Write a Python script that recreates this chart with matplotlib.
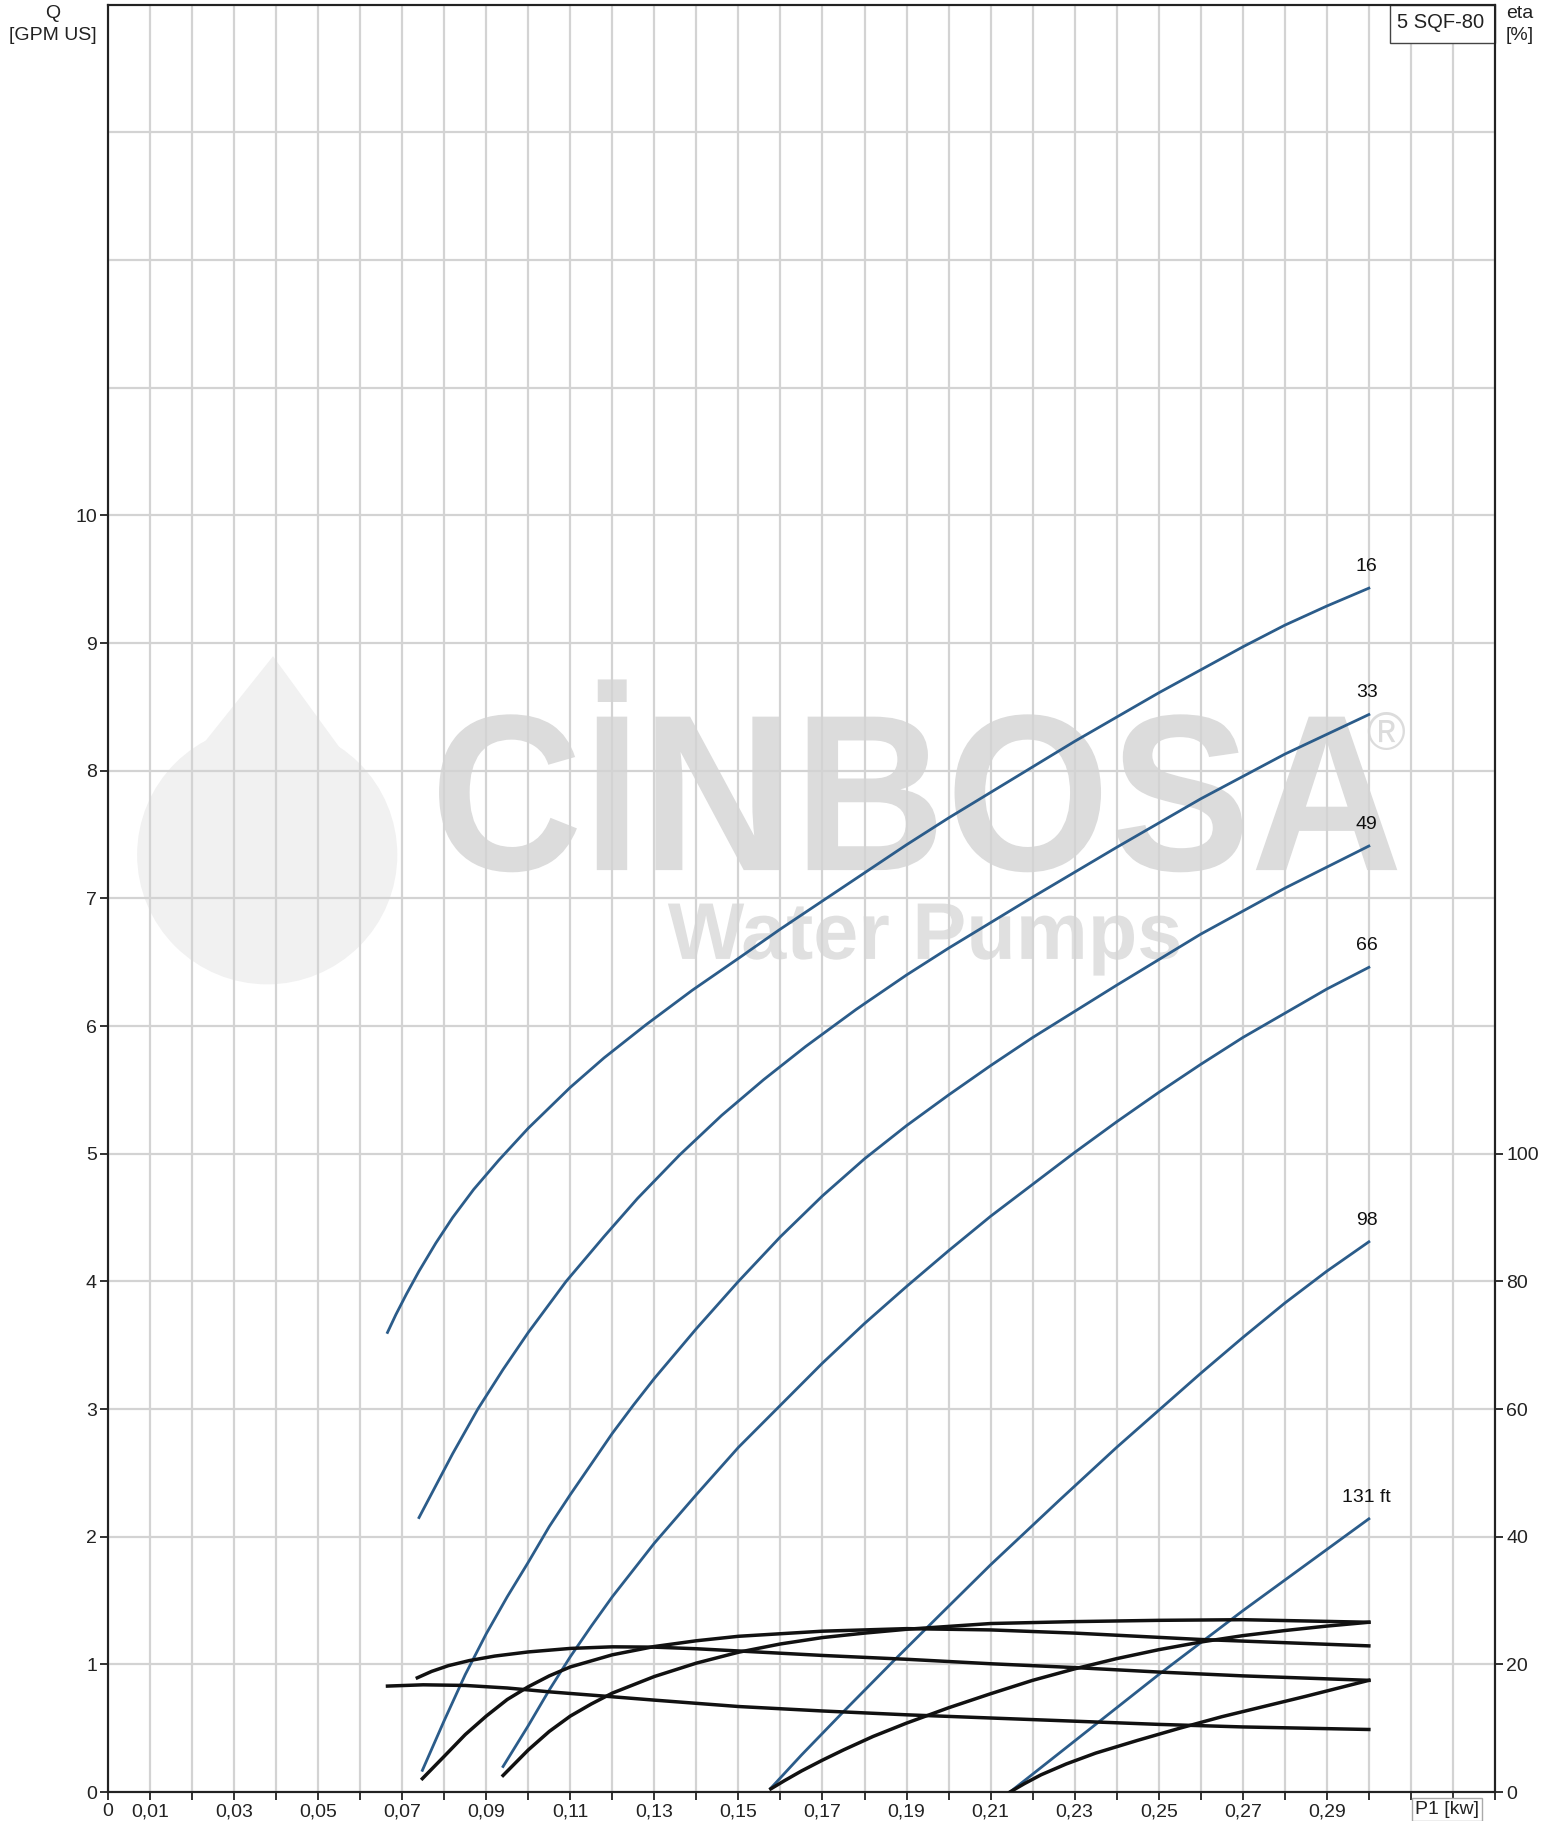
import numpy as np
import matplotlib
matplotlib.use("Agg")
import matplotlib.pyplot as plt
from matplotlib.patches import Ellipse, Polygon, Rectangle, PathPatch
from matplotlib.textpath import TextPath
from matplotlib.font_manager import FontProperties
from matplotlib.transforms import Affine2D

plt.rcParams['font.family'] = ['Liberation Sans', 'DejaVu Sans']

# Q [GPM US] against P1 [kW], one curve per head
head_labels = ['16', '33', '49', '66', '98', '131 ft']

p_16 = [0.0665, 0.0685, 0.071, 0.074, 0.078, 0.082, 0.087, 0.093, 0.100, 0.110, 0.118, 0.128,
        0.139, 0.150, 0.160, 0.170, 0.180, 0.190, 0.200, 0.210, 0.220, 0.230, 0.240, 0.250,
        0.260, 0.270, 0.280, 0.290, 0.300]
q_16 = [3.60, 3.74, 3.90, 4.08, 4.30, 4.50, 4.72, 4.95, 5.20, 5.52, 5.75, 6.01,
        6.28, 6.53, 6.76, 6.98, 7.20, 7.42, 7.63, 7.83, 8.03, 8.23, 8.42, 8.61,
        8.79, 8.97, 9.14, 9.29, 9.43]

p_33 = [0.074, 0.078, 0.082, 0.088, 0.094, 0.100, 0.109, 0.118, 0.126, 0.136, 0.146, 0.156,
        0.166, 0.178, 0.190, 0.200, 0.210, 0.220, 0.240, 0.260, 0.280, 0.300]
q_33 = [2.15, 2.40, 2.65, 3.00, 3.31, 3.60, 4.00, 4.35, 4.65, 4.99, 5.30, 5.58,
        5.84, 6.13, 6.40, 6.61, 6.81, 7.01, 7.40, 7.78, 8.13, 8.44]

p_49 = [0.0748, 0.080, 0.085, 0.090, 0.095, 0.100, 0.105, 0.110, 0.115, 0.120, 0.125, 0.130,
        0.140, 0.150, 0.160, 0.170, 0.180, 0.190, 0.200, 0.210, 0.220, 0.240, 0.260, 0.280,
        0.300]
q_49 = [0.17, 0.56, 0.92, 1.24, 1.53, 1.80, 2.08, 2.33, 2.57, 2.81, 3.03, 3.24,
        3.63, 4.00, 4.35, 4.67, 4.96, 5.22, 5.46, 5.69, 5.91, 6.32, 6.72, 7.08, 7.41]

p_66 = [0.094, 0.100, 0.105, 0.110, 0.115, 0.120, 0.130, 0.140, 0.150, 0.160, 0.170, 0.180,
        0.190, 0.200, 0.210, 0.220, 0.230, 0.240, 0.250, 0.260, 0.270, 0.280, 0.290, 0.300]
q_66 = [0.20, 0.52, 0.80, 1.06, 1.30, 1.53, 1.95, 2.33, 2.70, 3.03, 3.36, 3.67,
        3.96, 4.24, 4.51, 4.76, 5.01, 5.25, 5.48, 5.70, 5.91, 6.10, 6.29, 6.46]

p_98 = [0.1577, 0.165, 0.175, 0.187, 0.198, 0.210, 0.2265, 0.240, 0.250, 0.260, 0.270,
        0.280, 0.290, 0.300]
q_98 = [0.03, 0.29, 0.63, 1.03, 1.39, 1.78, 2.29, 2.70, 2.99, 3.28, 3.56,
        3.83, 4.08, 4.31]

p_131 = [0.2146, 0.220, 0.230, 0.240, 0.250, 0.260, 0.270, 0.280, 0.290, 0.300]
q_131 = [0.00, 0.14, 0.40, 0.66, 0.92, 1.17, 1.42, 1.66, 1.90, 2.14]

# eta [%] against P1 [kW]
pe_16 = [0.0665, 0.075, 0.085, 0.095, 0.105, 0.1186, 0.130, 0.150, 0.170, 0.190, 0.210,
         0.230, 0.250, 0.270, 0.300]
eta_16 = [16.6, 16.8, 16.7, 16.3, 15.7, 15.0, 14.4, 13.4, 12.7, 12.1, 11.6,
          11.1, 10.6, 10.2, 9.8]

pe_33 = [0.0736, 0.077, 0.081, 0.086, 0.092, 0.100, 0.110, 0.120, 0.130, 0.140, 0.150,
         0.170, 0.190, 0.210, 0.230, 0.250, 0.270, 0.300]
eta_33 = [17.9, 18.9, 19.8, 20.6, 21.3, 21.95, 22.5, 22.75, 22.7, 22.45, 22.1,
          21.4, 20.8, 20.1, 19.5, 18.8, 18.2, 17.5]

pe_49 = [0.0748, 0.080, 0.085, 0.090, 0.095, 0.100, 0.105, 0.110, 0.120, 0.130, 0.140,
         0.150, 0.170, 0.190, 0.210, 0.230, 0.260, 0.300]
eta_49 = [2.1, 5.6, 9.0, 11.9, 14.5, 16.5, 18.2, 19.6, 21.5, 22.8, 23.7,
          24.4, 25.2, 25.6, 25.4, 24.9, 23.9, 22.9]

pe_66 = [0.094, 0.100, 0.105, 0.110, 0.115, 0.120, 0.130, 0.140, 0.150, 0.160, 0.170,
         0.180, 0.190, 0.210, 0.230, 0.250, 0.270, 0.300]
eta_66 = [2.6, 6.6, 9.5, 11.9, 13.8, 15.5, 18.1, 20.2, 21.9, 23.2, 24.2,
          24.9, 25.5, 26.4, 26.7, 26.9, 27.0, 26.6]

pe_98 = [0.1577, 0.161, 0.165, 0.170, 0.175, 0.182, 0.190, 0.200, 0.210, 0.220, 0.230,
         0.240, 0.250, 0.260, 0.270, 0.280, 0.290, 0.300]
eta_98 = [0.5, 1.8, 3.3, 5.0, 6.6, 8.7, 10.8, 13.2, 15.4, 17.5, 19.3,
          20.9, 22.3, 23.5, 24.5, 25.3, 26.0, 26.6]

pe_131 = [0.2146, 0.218, 0.222, 0.228, 0.235, 0.245, 0.255, 0.265, 0.275, 0.285, 0.300]
eta_131 = [0.0, 1.3, 2.7, 4.4, 6.1, 8.1, 10.0, 11.8, 13.4, 15.0, 17.5]

q_curves = [(p_16, q_16), (p_33, q_33), (p_49, q_49), (p_66, q_66), (p_98, q_98), (p_131, q_131)]
eta_curves = [(pe_16, eta_16), (pe_33, eta_33), (pe_49, eta_49), (pe_66, eta_66),
              (pe_98, eta_98), (pe_131, eta_131)]

x_ticks = np.round(np.arange(0, 0.3301, 0.01), 2)
x_labels = ['0' if i == 0 else ('0,%02d' % i if i % 2 == 1 and i < 30 else '') for i in range(len(x_ticks))]
q_ticks = list(range(0, 11))
eta_ticks = [0, 20, 40, 60, 80, 100]

blue = '#2b5c8a'
grid_c = '#d3d3d3'
frame_c = '#222222'
fs = 14


def watermark(ax, text, x0, x1, y0, y1, color, weight='bold'):
    # light text stretched into a box given in axes fractions
    tp = TextPath((0, 0), text, size=1, prop=FontProperties(family='Liberation Sans', weight=weight))
    ext = tp.get_extents()
    tr = (Affine2D().translate(-ext.x0, -ext.y0)
          .scale((x1 - x0) / ext.width, (y1 - y0) / ext.height)
          .translate(x0, y0) + ax.transAxes)
    ax.add_patch(PathPatch(tp, transform=tr, fc=color, ec='none', zorder=0.1))


fig = plt.figure(figsize=(15.45, 18.21), dpi=100)
ax = fig.add_axes([0.0699, 0.0159, 0.8977, 0.9815])
ax.set_xlim(0, 0.33)
ax.set_ylim(0, 14)
ax.set_xticks(x_ticks)
ax.set_xticklabels(x_labels)
ax.set_yticks(q_ticks)
ax.set_yticks([11, 12, 13], minor=True)
ax.set_xticks([], minor=True)
ax.grid(True, which='both', color=grid_c, lw=1.6)
ax.set_axisbelow(True)
ax.tick_params(axis='both', which='major', direction='out', length=6, width=1.3,
               labelsize=fs, colors=frame_c, pad=2)
ax.tick_params(axis='y', which='minor', length=0)
for s in ax.spines.values():
    s.set_color(frame_c)
    s.set_linewidth(1.5)

ax2 = ax.twinx()
ax2.set_ylim(0, 280)
ax2.set_yticks(eta_ticks)
ax2.tick_params(axis='y', direction='out', length=6, width=1.3, labelsize=fs,
                colors=frame_c, pad=2)
for s in ax2.spines.values():
    s.set_color(frame_c)
    s.set_linewidth(1.5)

# faint watermark
watermark(ax, 'CİNBOSA', 0.2387, 0.9296, 0.5146, 0.6225, '#dcdcdc')
watermark(ax, 'Water Pumps', 0.4037, 0.7722, 0.4568, 0.4971, '#e0e0e0')
ax.text(0.9213, 0.5906, '®', transform=ax.transAxes, ha='center', va='center',
        fontsize=38, color='#dcdcdc', zorder=0.1)
ax.add_patch(Ellipse((0.1148, 0.5244), 0.1876, 0.145, transform=ax.transAxes,
                     fc='#f1f1f1', ec='none', zorder=0.1))
ax.add_patch(Polygon([(0.026, 0.545), (0.119, 0.6355), (0.204, 0.545)], closed=True,
                     transform=ax.transAxes, fc='#f1f1f1', ec='none', zorder=0.1))

for (p, q), lab in zip(q_curves, head_labels):
    ax.plot(p, q, color=blue, lw=2.0, zorder=3, solid_joinstyle='round')
    ax.text(p[-1] - 0.0005, q[-1] + 0.17, lab, ha='center', va='center',
            fontsize=fs, color='#111111', zorder=4)

for p, e in eta_curves:
    ax2.plot(p, e, color='#111111', lw=2.5, zorder=3, solid_joinstyle='round')

# title box and axis captions
ax.add_patch(Rectangle((0.9246, 0.9786), 0.0754, 0.0214, transform=ax.transAxes,
                       fc='white', ec='#444444', lw=1.0, zorder=5, clip_on=False))
ax.text(0.9605, 0.9902, '5 SQF-80', transform=ax.transAxes, ha='center', va='center',
        fontsize=14.5, color='#222222', zorder=6)
ax.text(0.9657, -0.0097, 'P1 [kw]', transform=ax.transAxes, ha='center', va='center',
        fontsize=fs, color='#222222', clip_on=False,
        bbox=dict(boxstyle='square,pad=0.15', fc='white', ec='#aaaaaa', lw=1.0))
fig.text(0.034, 0.9975, 'Q\n[GPM US]', ha='center', va='top', fontsize=fs,
         color='#222222', linespacing=1.4)
fig.text(0.9835, 0.9975, 'eta\n[%]', ha='center', va='top', fontsize=fs,
         color='#222222', linespacing=1.4)

fig.savefig('out.png', dpi=100)
